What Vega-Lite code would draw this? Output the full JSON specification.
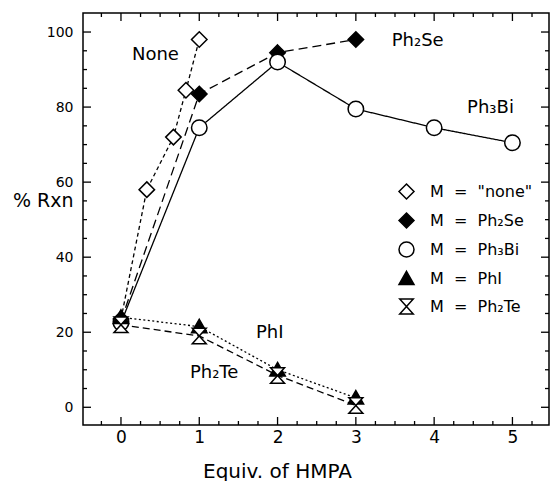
{
  "$schema": "https://vega.github.io/schema/vega-lite/v6.json",
  "width": 466,
  "height": 412,
  "autosize": "none",
  "padding": {"left": 83, "top": 13, "right": 2, "bottom": 56},
  "background": "white",
  "config": {
    "view": {"stroke": "black", "strokeWidth": 1.5},
    "font": "DejaVu Sans",
    "axis": {"domain": false, "grid": false, "ticks": false, "tickSize": 0, "labelColor": "black", "titleColor": "black", "labelFont": "DejaVu Sans", "titleFont": "DejaVu Sans", "titleFontWeight": "normal", "labelOverlap": false}
  },
  "datasets": {
    "pts": [
      {"M": "M\u00a0\u00a0=\u00a0\u00a0\"none\"", "x": 0, "y": 23.5},
      {"M": "M\u00a0\u00a0=\u00a0\u00a0\"none\"", "x": 0.33, "y": 58},
      {"M": "M\u00a0\u00a0=\u00a0\u00a0\"none\"", "x": 0.67, "y": 72},
      {"M": "M\u00a0\u00a0=\u00a0\u00a0\"none\"", "x": 0.83, "y": 84.5},
      {"M": "M\u00a0\u00a0=\u00a0\u00a0\"none\"", "x": 1, "y": 98},
      {"M": "M\u00a0\u00a0=\u00a0\u00a0Ph₂Se", "x": 0, "y": 23},
      {"M": "M\u00a0\u00a0=\u00a0\u00a0Ph₂Se", "x": 1, "y": 83.5},
      {"M": "M\u00a0\u00a0=\u00a0\u00a0Ph₂Se", "x": 2, "y": 94.5},
      {"M": "M\u00a0\u00a0=\u00a0\u00a0Ph₂Se", "x": 3, "y": 98},
      {"M": "M\u00a0\u00a0=\u00a0\u00a0Ph₃Bi", "x": 0, "y": 22.5},
      {"M": "M\u00a0\u00a0=\u00a0\u00a0Ph₃Bi", "x": 1, "y": 74.5},
      {"M": "M\u00a0\u00a0=\u00a0\u00a0Ph₃Bi", "x": 2, "y": 92},
      {"M": "M\u00a0\u00a0=\u00a0\u00a0Ph₃Bi", "x": 3, "y": 79.5},
      {"M": "M\u00a0\u00a0=\u00a0\u00a0Ph₃Bi", "x": 4, "y": 74.5},
      {"M": "M\u00a0\u00a0=\u00a0\u00a0Ph₃Bi", "x": 5, "y": 70.5},
      {"M": "M\u00a0\u00a0=\u00a0\u00a0PhI", "x": 0, "y": 24},
      {"M": "M\u00a0\u00a0=\u00a0\u00a0PhI", "x": 1, "y": 21.5},
      {"M": "M\u00a0\u00a0=\u00a0\u00a0PhI", "x": 2, "y": 10},
      {"M": "M\u00a0\u00a0=\u00a0\u00a0PhI", "x": 3, "y": 2.5},
      {"M": "M\u00a0\u00a0=\u00a0\u00a0Ph₂Te", "x": 0, "y": 22},
      {"M": "M\u00a0\u00a0=\u00a0\u00a0Ph₂Te", "x": 1, "y": 19},
      {"M": "M\u00a0\u00a0=\u00a0\u00a0Ph₂Te", "x": 2, "y": 8.5},
      {"M": "M\u00a0\u00a0=\u00a0\u00a0Ph₂Te", "x": 3, "y": 0.5}
    ],
    "lbl": [
      {"t": "None", "x": 0.44, "y": 93.8},
      {"t": "Ph₂Se", "x": 3.79, "y": 97.5},
      {"t": "Ph₃Bi", "x": 4.72, "y": 79.8},
      {"t": "PhI", "x": 1.9, "y": 19.8},
      {"t": "Ph₂Te", "x": 1.19, "y": 9.2}
    ],
    "xt": [
      {"v": -0.25, "k": "minor"}, {"v": 0, "k": "major"}, {"v": 0.25, "k": "minor"}, {"v": 0.5, "k": "minor"}, {"v": 0.75, "k": "minor"},
      {"v": 1, "k": "major"}, {"v": 1.25, "k": "minor"}, {"v": 1.5, "k": "minor"}, {"v": 1.75, "k": "minor"},
      {"v": 2, "k": "major"}, {"v": 2.25, "k": "minor"}, {"v": 2.5, "k": "minor"}, {"v": 2.75, "k": "minor"},
      {"v": 3, "k": "major"}, {"v": 3.25, "k": "minor"}, {"v": 3.5, "k": "minor"}, {"v": 3.75, "k": "minor"},
      {"v": 4, "k": "major"}, {"v": 4.25, "k": "minor"}, {"v": 4.5, "k": "minor"}, {"v": 4.75, "k": "minor"},
      {"v": 5, "k": "major"}, {"v": 5.25, "k": "minor"}
    ],
    "yt": [
      {"v": 0, "k": "major"}, {"v": 5, "k": "minor"}, {"v": 10, "k": "minor"}, {"v": 15, "k": "minor"},
      {"v": 20, "k": "major"}, {"v": 25, "k": "minor"}, {"v": 30, "k": "minor"}, {"v": 35, "k": "minor"},
      {"v": 40, "k": "major"}, {"v": 45, "k": "minor"}, {"v": 50, "k": "minor"}, {"v": 55, "k": "minor"},
      {"v": 60, "k": "major"}, {"v": 65, "k": "minor"}, {"v": 70, "k": "minor"}, {"v": 75, "k": "minor"},
      {"v": 80, "k": "major"}, {"v": 85, "k": "minor"}, {"v": 90, "k": "minor"}, {"v": 95, "k": "minor"},
      {"v": 100, "k": "major"}
    ]
  },
  "layer": [
    {
      "data": {"name": "xt"},
      "mark": {"type": "tick", "orient": "vertical", "thickness": 1.3, "color": "black", "opacity": 1, "clip": true},
      "encoding": {
        "x": {"field": "v", "type": "quantitative", "scale": {"domain": [-0.485, 5.467], "nice": false, "zero": false},
          "axis": {"orient": "bottom", "values": [0, 1, 2, 3, 4, 5], "format": "d",
            "labelFontSize": 17, "labelPadding": 4,
            "title": "Equiv. of HMPA", "titleFontSize": 20, "titleX": 194, "titleY": 46, "titleAlign": "center", "titleBaseline": "middle"}},
        "y": {"datum": -4.72, "type": "quantitative", "scale": {"domain": [-4.72, 105.07], "nice": false, "zero": false},
          "axis": {"orient": "left", "values": [0, 20, 40, 60, 80, 100], "format": "d",
            "labelFontSize": 14, "labelPadding": 10,
            "title": "% Rxn", "titleFontSize": 19, "titleAngle": 0, "titleX": -10, "titleY": 187, "titleAlign": "right", "titleBaseline": "middle"}},
        "size": {"field": "k", "type": "ordinal", "scale": {"domain": ["major", "minor"], "range": [16, 8]}, "legend": null}
      }
    },
    {
      "data": {"name": "xt"},
      "mark": {"type": "tick", "orient": "vertical", "thickness": 1.3, "color": "black", "opacity": 1, "clip": true},
      "encoding": {
        "x": {"field": "v", "type": "quantitative", "axis": null},
        "y": {"datum": 105.07, "type": "quantitative", "axis": null},
        "size": {"field": "k", "type": "ordinal", "scale": {"domain": ["major", "minor"], "range": [16, 8]}, "legend": null}
      }
    },
    {
      "data": {"name": "yt"},
      "mark": {"type": "tick", "orient": "horizontal", "thickness": 1.3, "color": "black", "opacity": 1, "clip": true},
      "encoding": {
        "y": {"field": "v", "type": "quantitative", "axis": null},
        "x": {"datum": -0.485, "type": "quantitative", "axis": null},
        "size": {"field": "k", "type": "ordinal", "scale": {"domain": ["major", "minor"], "range": [16, 8]}, "legend": null}
      }
    },
    {
      "data": {"name": "yt"},
      "mark": {"type": "tick", "orient": "horizontal", "thickness": 1.3, "color": "black", "opacity": 1, "clip": true},
      "encoding": {
        "y": {"field": "v", "type": "quantitative", "axis": null},
        "x": {"datum": 5.467, "type": "quantitative", "axis": null},
        "size": {"field": "k", "type": "ordinal", "scale": {"domain": ["major", "minor"], "range": [16, 8]}, "legend": null}
      }
    },
    {
      "data": {"name": "pts"},
      "mark": {"type": "line", "color": "black", "strokeWidth": 1.3},
      "encoding": {
        "x": {"field": "x", "type": "quantitative", "axis": null},
        "y": {"field": "y", "type": "quantitative", "axis": null},
        "detail": {"field": "M", "type": "nominal"},
        "strokeDash": {"field": "M", "type": "nominal",
          "scale": {"domain": ["M\u00a0\u00a0=\u00a0\u00a0Ph₂Te", "M\u00a0\u00a0=\u00a0\u00a0PhI", "M\u00a0\u00a0=\u00a0\u00a0Ph₃Bi", "M\u00a0\u00a0=\u00a0\u00a0Ph₂Se", "M\u00a0\u00a0=\u00a0\u00a0\"none\""], "range": [[7, 4], [2, 2.5], [1, 0], [9, 5], [4, 3]]},
          "legend": null}
      }
    },
    {
      "data": {"name": "pts"},
      "mark": {"type": "point", "filled": true, "stroke": "black", "strokeWidth": 1.5, "opacity": 1, "size": 240},
      "encoding": {
        "x": {"field": "x", "type": "quantitative", "axis": null},
        "y": {"field": "y", "type": "quantitative", "axis": null},
        "shape": {"field": "M", "type": "nominal",
          "scale": {"domain": ["M\u00a0\u00a0=\u00a0\u00a0\"none\"", "M\u00a0\u00a0=\u00a0\u00a0Ph₂Se", "M\u00a0\u00a0=\u00a0\u00a0Ph₃Bi", "M\u00a0\u00a0=\u00a0\u00a0PhI", "M\u00a0\u00a0=\u00a0\u00a0Ph₂Te"],
            "range": ["M0,-1L1,0L0,1L-1,0Z", "M0,-1L1,0L0,1L-1,0Z", "circle", "M0,-0.95L1,0.8L-1,0.8Z", "M-0.9,-1L0.9,-1L-0.9,1L0.9,1Z"]},
          "legend": {"title": null, "orient": "none", "legendX": 315, "legendY": 170, "labelFontSize": 16, "labelFont": "DejaVu Sans", "labelColor": "black", "symbolSize": 225, "labelOffset": 15, "rowPadding": 8, "padding": 0,
            "encode": {"symbols": {"update": {"stroke": {"value": "black"}, "strokeWidth": {"value": 1.5}}}}}},
        "fill": {"field": "M", "type": "nominal",
          "scale": {"domain": ["M\u00a0\u00a0=\u00a0\u00a0\"none\"", "M\u00a0\u00a0=\u00a0\u00a0Ph₂Se", "M\u00a0\u00a0=\u00a0\u00a0Ph₃Bi", "M\u00a0\u00a0=\u00a0\u00a0PhI", "M\u00a0\u00a0=\u00a0\u00a0Ph₂Te"], "range": ["white", "black", "white", "black", "white"]},
          "legend": {"title": null, "orient": "none", "legendX": 315, "legendY": 170, "labelFontSize": 16, "labelFont": "DejaVu Sans", "labelColor": "black", "symbolSize": 225, "labelOffset": 15, "rowPadding": 8, "padding": 0,
            "encode": {"symbols": {"update": {"stroke": {"value": "black"}, "strokeWidth": {"value": 1.5}}}}}}
      }
    },
    {
      "data": {"name": "lbl"},
      "mark": {"type": "text", "fontSize": 18, "font": "DejaVu Sans", "color": "black", "align": "center", "baseline": "middle"},
      "encoding": {
        "x": {"field": "x", "type": "quantitative", "axis": null},
        "y": {"field": "y", "type": "quantitative", "axis": null},
        "text": {"field": "t"}
      }
    }
  ],
  "resolve": {"axis": {"x": "independent", "y": "independent"}}
}
